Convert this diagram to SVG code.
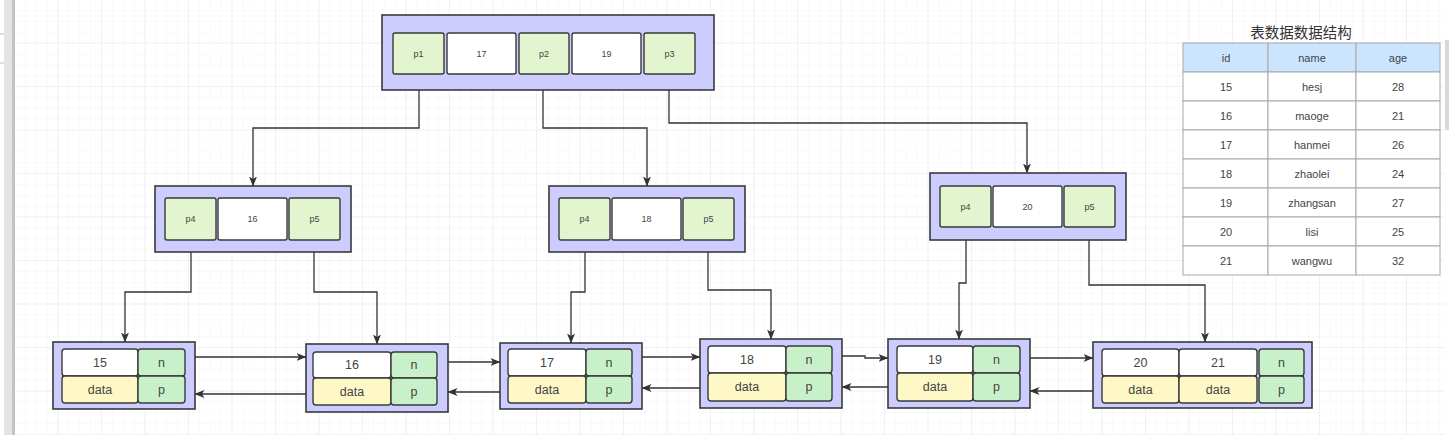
<svg xmlns="http://www.w3.org/2000/svg" width="1449" height="435" viewBox="0 0 1449 435">
<defs>
<pattern id="minor" x="15" y="0" width="10.875" height="10.875" patternUnits="userSpaceOnUse">
<path d="M10.875,0 V10.875 M0,10.875 H10.875" fill="none" stroke="#f4f4f4" stroke-width="1"/>
</pattern>
<pattern id="major" x="15" y="0" width="43.5" height="43.5" patternUnits="userSpaceOnUse">
<path d="M43.5,0 V43.5 M0,43.5 H43.5" fill="none" stroke="#e9e9e9" stroke-width="1"/>
</pattern>
<marker id="arr" markerUnits="userSpaceOnUse" markerWidth="10" markerHeight="10" viewBox="0 0 10 10" refX="9.5" refY="5" orient="auto">
<path d="M0,1 L10,5 L0,9 L2.5,5 Z" fill="#333"/>
</marker>
<style>
.outer{fill:#ccccff;stroke:#3a3a3a;stroke-width:1.6}
.ptr{fill:#e3f5cf;stroke:#3a3a3a;stroke-width:1.4}
.key{fill:#ffffff;stroke:#3a3a3a;stroke-width:1.4}
.nc{fill:#c9f1c9;stroke:#3a3a3a;stroke-width:1.4}
.dc{fill:#fdf8c6;stroke:#3a3a3a;stroke-width:1.4}
.t9{font-family:"Liberation Sans",Arial,sans-serif;font-size:9px;fill:#444;text-anchor:middle;dominant-baseline:central}
.t12{font-family:"Liberation Sans",Arial,sans-serif;font-size:12.5px;fill:#444;text-anchor:middle;dominant-baseline:central}
.t11{font-family:"Liberation Sans",Arial,sans-serif;font-size:11px;fill:#444;text-anchor:middle;dominant-baseline:central}
.title{font-family:"Noto Sans CJK SC",sans-serif;font-size:14.5px;fill:#333;text-anchor:middle;dominant-baseline:central}
.conn path{fill:none;stroke:#333;stroke-width:1.3;marker-end:url(#arr)}
.tbl rect{stroke:#a8a8a8;stroke-width:1}
</style>
</defs>
<rect x="0" y="0" width="1449" height="435" fill="#ffffff"/>
<rect x="15" y="0" width="1430" height="435" fill="url(#minor)"/>
<rect x="15" y="0" width="1430" height="435" fill="url(#major)"/>
<rect x="4" y="0" width="8" height="435" fill="#e4e4e4"/>
<rect x="12" y="0" width="3" height="435" fill="#c4c4c4"/>
<path d="M0,34 H4 M0,63 H4" stroke="#bbb" stroke-width="1"/>
<rect x="1445" y="40" width="4" height="90" fill="#d8d8d8"/>

<g id="connectors" class="conn">
<path d="M419,74 V128 H253 V186"/>
<path d="M543,74 V128 H647 V186"/>
<path d="M669,74 V123 H1027 V173"/>
<path d="M191,240 V292 H125 V342"/>
<path d="M314,240 V292 H377 V344"/>
<path d="M585,240 V292 H571 V343"/>
<path d="M708,240 V290 H771 V339"/>
<path d="M966,227 V283 H959 V339"/>
<path d="M1089,227 V285 H1205 V342"/>
<path d="M195,357 H306"/>
<path d="M448,362 H500"/>
<path d="M642,357 H700"/>
<path d="M842,356 H865 V358 H888"/>
<path d="M1030,358 H1093"/>
<path d="M306,394 H195"/>
<path d="M500,392 H448"/>
<path d="M700,388 H642"/>
<path d="M888,387 H842"/>
<path d="M1093,391 H1030"/>
</g>

<g id="root">
<rect class="outer" x="382" y="15" width="332" height="75"/>
<rect class="ptr" x="393" y="33" width="51" height="41" rx="2"/>
<rect class="key" x="447" y="33" width="69" height="41" rx="2"/>
<rect class="ptr" x="519" y="33" width="50" height="41" rx="2"/>
<rect class="key" x="572" y="33" width="69" height="41" rx="2"/>
<rect class="ptr" x="644" y="33" width="51" height="41" rx="2"/>
<text class="t9" x="418.5" y="53.5">p1</text>
<text class="t9" x="481.5" y="53.5">17</text>
<text class="t9" x="544" y="53.5">p2</text>
<text class="t9" x="606.5" y="53.5">19</text>
<text class="t9" x="669.5" y="53.5">p3</text>
</g>

<g id="mid1">
<rect class="outer" x="155" y="186" width="196" height="66"/>
<rect class="ptr" x="165" y="198" width="51" height="42" rx="2"/>
<rect class="key" x="218" y="198" width="69" height="42" rx="2"/>
<rect class="ptr" x="289" y="198" width="51" height="42" rx="2"/>
<text class="t9" x="190.5" y="219">p4</text>
<text class="t9" x="252.5" y="219">16</text>
<text class="t9" x="314.5" y="219">p5</text>
</g>

<g id="mid2">
<rect class="outer" x="549" y="186" width="196" height="66"/>
<rect class="ptr" x="559" y="198" width="51" height="42" rx="2"/>
<rect class="key" x="612" y="198" width="69" height="42" rx="2"/>
<rect class="ptr" x="683" y="198" width="51" height="42" rx="2"/>
<text class="t9" x="584.5" y="219">p4</text>
<text class="t9" x="646.5" y="219">18</text>
<text class="t9" x="708.5" y="219">p5</text>
</g>

<g id="mid3">
<rect class="outer" x="930" y="173" width="196" height="67"/>
<rect class="ptr" x="940" y="186" width="51" height="41" rx="2"/>
<rect class="key" x="993" y="186" width="69" height="41" rx="2"/>
<rect class="ptr" x="1064" y="186" width="51" height="41" rx="2"/>
<text class="t9" x="965.5" y="206.5">p4</text>
<text class="t9" x="1027.5" y="206.5">20</text>
<text class="t9" x="1089.5" y="206.5">p5</text>
</g>

<g id="leaf15">
<rect class="outer" x="53" y="342" width="142" height="67"/>
<rect class="key" x="62" y="349" width="76" height="27" rx="3"/>
<rect class="dc" x="62" y="376" width="76" height="27" rx="3"/>
<rect class="nc" x="138" y="349" width="47" height="27" rx="3"/>
<rect class="nc" x="138" y="376" width="47" height="27" rx="3"/>
<text class="t12" x="100" y="362.5">15</text>
<text class="t12" x="100" y="389.5">data</text>
<text class="t12" x="161.5" y="362.5">n</text>
<text class="t12" x="161.5" y="389.5">p</text>
</g>

<g id="leaf16">
<rect class="outer" x="306" y="344" width="142" height="68"/>
<rect class="key" x="313" y="352" width="78" height="26" rx="3"/>
<rect class="dc" x="313" y="378" width="78" height="27" rx="3"/>
<rect class="nc" x="391" y="352" width="46" height="26" rx="3"/>
<rect class="nc" x="391" y="378" width="46" height="27" rx="3"/>
<text class="t12" x="352" y="365">16</text>
<text class="t12" x="352" y="391.5">data</text>
<text class="t12" x="414" y="365">n</text>
<text class="t12" x="414" y="391.5">p</text>
</g>

<g id="leaf17">
<rect class="outer" x="500" y="343" width="142" height="66"/>
<rect class="key" x="508" y="349" width="78" height="27" rx="3"/>
<rect class="dc" x="508" y="376" width="78" height="27" rx="3"/>
<rect class="nc" x="586" y="349" width="46" height="27" rx="3"/>
<rect class="nc" x="586" y="376" width="46" height="27" rx="3"/>
<text class="t12" x="547" y="362.5">17</text>
<text class="t12" x="547" y="389.5">data</text>
<text class="t12" x="609" y="362.5">n</text>
<text class="t12" x="609" y="389.5">p</text>
</g>

<g id="leaf18">
<rect class="outer" x="700" y="339" width="142" height="69"/>
<rect class="key" x="708" y="346" width="78" height="27" rx="3"/>
<rect class="dc" x="708" y="373" width="78" height="28" rx="3"/>
<rect class="nc" x="786" y="346" width="46" height="27" rx="3"/>
<rect class="nc" x="786" y="373" width="46" height="28" rx="3"/>
<text class="t12" x="747" y="359.5">18</text>
<text class="t12" x="747" y="387">data</text>
<text class="t12" x="809" y="359.5">n</text>
<text class="t12" x="809" y="387">p</text>
</g>

<g id="leaf19">
<rect class="outer" x="888" y="339" width="142" height="69"/>
<rect class="key" x="897" y="346" width="76" height="27" rx="3"/>
<rect class="dc" x="897" y="373" width="76" height="28" rx="3"/>
<rect class="nc" x="973" y="346" width="47" height="27" rx="3"/>
<rect class="nc" x="973" y="373" width="47" height="28" rx="3"/>
<text class="t12" x="935" y="359.5">19</text>
<text class="t12" x="935" y="387">data</text>
<text class="t12" x="996.5" y="359.5">n</text>
<text class="t12" x="996.5" y="387">p</text>
</g>

<g id="leaf2021">
<rect class="outer" x="1093" y="342" width="219" height="66"/>
<rect class="key" x="1102" y="349" width="77" height="27" rx="3"/>
<rect class="dc" x="1102" y="376" width="77" height="27" rx="3"/>
<rect class="key" x="1179" y="349" width="78" height="27" rx="3"/>
<rect class="dc" x="1179" y="376" width="78" height="27" rx="3"/>
<rect class="nc" x="1259" y="349" width="45" height="27" rx="3"/>
<rect class="nc" x="1259" y="376" width="45" height="27" rx="3"/>
<text class="t12" x="1140.5" y="362.5">20</text>
<text class="t12" x="1140.5" y="389.5">data</text>
<text class="t12" x="1218" y="362.5">21</text>
<text class="t12" x="1218" y="389.5">data</text>
<text class="t12" x="1281.5" y="362.5">n</text>
<text class="t12" x="1281.5" y="389.5">p</text>
</g>

<g id="table" class="tbl">
<text class="title" x="1301" y="31">表数据数据结构</text>
<rect x="1183" y="43" width="85" height="29" fill="#cce5ff"/>
<rect x="1268" y="43" width="88" height="29" fill="#cce5ff"/>
<rect x="1356" y="43" width="84" height="29" fill="#cce5ff"/>
<g fill="#ffffff">
<rect x="1183" y="72" width="85" height="29"/><rect x="1268" y="72" width="88" height="29"/><rect x="1356" y="72" width="84" height="29"/>
<rect x="1183" y="101" width="85" height="29"/><rect x="1268" y="101" width="88" height="29"/><rect x="1356" y="101" width="84" height="29"/>
<rect x="1183" y="130" width="85" height="29"/><rect x="1268" y="130" width="88" height="29"/><rect x="1356" y="130" width="84" height="29"/>
<rect x="1183" y="159" width="85" height="29"/><rect x="1268" y="159" width="88" height="29"/><rect x="1356" y="159" width="84" height="29"/>
<rect x="1183" y="188" width="85" height="29"/><rect x="1268" y="188" width="88" height="29"/><rect x="1356" y="188" width="84" height="29"/>
<rect x="1183" y="217" width="85" height="29"/><rect x="1268" y="217" width="88" height="29"/><rect x="1356" y="217" width="84" height="29"/>
<rect x="1183" y="246" width="85" height="29"/><rect x="1268" y="246" width="88" height="29"/><rect x="1356" y="246" width="84" height="29"/>
</g>
<text class="t11" x="1226" y="57.5">id</text><text class="t11" x="1312" y="57.5">name</text><text class="t11" x="1398" y="57.5">age</text>
<text class="t11" x="1226" y="86.5">15</text><text class="t11" x="1312" y="86.5">hesj</text><text class="t11" x="1398" y="86.5">28</text>
<text class="t11" x="1226" y="115.5">16</text><text class="t11" x="1312" y="115.5">maoge</text><text class="t11" x="1398" y="115.5">21</text>
<text class="t11" x="1226" y="144.5">17</text><text class="t11" x="1312" y="144.5">hanmei</text><text class="t11" x="1398" y="144.5">26</text>
<text class="t11" x="1226" y="173.5">18</text><text class="t11" x="1312" y="173.5">zhaolei</text><text class="t11" x="1398" y="173.5">24</text>
<text class="t11" x="1226" y="202.5">19</text><text class="t11" x="1312" y="202.5">zhangsan</text><text class="t11" x="1398" y="202.5">27</text>
<text class="t11" x="1226" y="231.5">20</text><text class="t11" x="1312" y="231.5">lisi</text><text class="t11" x="1398" y="231.5">25</text>
<text class="t11" x="1226" y="260.5">21</text><text class="t11" x="1312" y="260.5">wangwu</text><text class="t11" x="1398" y="260.5">32</text>
</g>
</svg>
